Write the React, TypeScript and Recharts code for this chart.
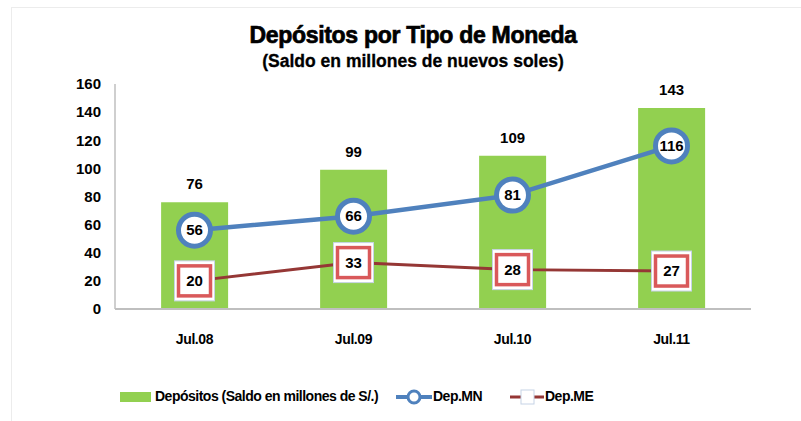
import React from 'react';
import { ComposedChart, Bar, Line, XAxis, YAxis, LabelList, Legend } from 'recharts';

const categories = ['Jul.08', 'Jul.09', 'Jul.10', 'Jul.11'];
const depositos = [76, 99, 109, 143];
const depMN = [56, 66, 81, 116];
const depME = [20, 33, 28, 27];
const yTicks = [0, 20, 40, 60, 80, 100, 120, 140, 160];

const data = categories.map((c, i) => ({ name: c, dep: depositos[i], mn: depMN[i], me: depME[i] }));

const FONT = "'Liberation Sans', Arial, sans-serif";
const GREEN = '#92D050';
const BLUE = '#4F81BD';
const DARKRED = '#953735';
const RED = '#D9595A';

const CircleDot = (props: any) => {
  const { cx, cy, value } = props;
  if (cx == null || cy == null) return null;
  return (
    <g>
      <circle cx={cx} cy={cy} r={16} fill="#fff" stroke={BLUE} strokeWidth={5} />
      <text x={cx} y={cy} dy={5} textAnchor="middle" fontFamily={FONT} fontWeight="bold" fontSize={15} fill="#000">{value}</text>
    </g>
  );
};

const SquareDot = (props: any) => {
  const { cx, cy, value } = props;
  if (cx == null || cy == null) return null;
  return (
    <g>
      <rect x={cx - 20} y={cy - 20} width={40} height={40} fill="#fff" stroke="#C6D3E6" strokeWidth={1} />
      <rect x={cx - 16} y={cy - 15} width={32} height={30} fill="#fff" stroke={RED} strokeWidth={3.5} />
      <text x={cx} y={cy} dy={5} textAnchor="middle" fontFamily={FONT} fontWeight="bold" fontSize={15} fill="#000">{value}</text>
    </g>
  );
};

const LegendContent = () => (
  <div style={{ position: 'relative', height: 24, fontFamily: FONT, fontWeight: 'bold', fontSize: 14, letterSpacing: -0.5, color: '#000' }}>
    <div style={{ position: 'absolute', left: 120, top: 7, width: 31, height: 10, background: GREEN }} />
    <div style={{ position: 'absolute', left: 155, top: 3 }}>Depósitos (Saldo en millones de S/.)</div>
    <svg style={{ position: 'absolute', left: 396, top: 2 }} width={36} height={20}>
      <line x1={0} y1={10} x2={36} y2={10} stroke={BLUE} strokeWidth={4} />
      <circle cx={18} cy={10} r={6} fill="#fff" stroke={BLUE} strokeWidth={3} />
    </svg>
    <div style={{ position: 'absolute', left: 433, top: 3 }}>Dep.MN</div>
    <svg style={{ position: 'absolute', left: 510, top: 2 }} width={34} height={20}>
      <line x1={0} y1={10} x2={34} y2={10} stroke={DARKRED} strokeWidth={3} />
      <rect x={11} y={3} width={13} height={14} fill="#fff" stroke="#C6D3E6" strokeWidth={1} />
    </svg>
    <div style={{ position: 'absolute', left: 545, top: 3 }}>Dep.ME</div>
  </div>
);

export default function App() {
  return (
    <div style={{ position: 'absolute', left: 0, top: 0, width: 801, height: 421, background: '#fff' }}>
      <div style={{ position: 'absolute', left: 11, top: 7, width: 790, height: 414, borderTop: '1px solid #ececec', borderLeft: '1px solid #ececec' }} />
      <div style={{ position: 'absolute', left: 0, top: 22, width: 826, textAlign: 'center', fontFamily: FONT, fontWeight: 'bold', fontSize: 23, letterSpacing: -0.3, WebkitTextStroke: '0.7px #000', color: '#000' }}>
        Depósitos por Tipo de Moneda
      </div>
      <div style={{ position: 'absolute', left: 0, top: 51, width: 826, textAlign: 'center', fontFamily: FONT, fontWeight: 'bold', fontSize: 17.5, letterSpacing: 0, WebkitTextStroke: '0.3px #000', color: '#000' }}>
        (Saldo en millones de nuevos soles)
      </div>
      <ComposedChart
        width={801}
        height={421}
        data={data}
        margin={{ top: 84, right: 50, left: 0, bottom: 0 }}
        barCategoryGap="29%"
      >
        <XAxis
          dataKey="name"
          axisLine={{ stroke: '#BFBFBF', strokeWidth: 2 }}
          tickLine={false}
          tickSize={21}
          tickMargin={4}
          height={88}
          tick={{ fontFamily: FONT, fontWeight: 'bold', fontSize: 14, letterSpacing: -0.4, fill: '#000' }}
        />
        <YAxis
          width={115}
          domain={[0, 160]}
          ticks={yTicks}
          interval={0}
          axisLine={{ stroke: '#BFBFBF', strokeWidth: 1.5 }}
          tickLine={false}
          tickSize={10}
          tickMargin={4}
          tick={{ fontFamily: FONT, fontWeight: 'bold', fontSize: 15, fill: '#000' }}
        />
        <Legend verticalAlign="bottom" content={<LegendContent />} wrapperStyle={{ left: 0, width: 801, bottom: 12 }} />
        <Bar dataKey="dep" fill={GREEN} isAnimationActive={false}>
          <LabelList dataKey="dep" position="top" offset={13} style={{ fontFamily: FONT, fontWeight: 'bold', fontSize: 15, fill: '#000' }} />
        </Bar>
        <Line dataKey="mn" stroke={BLUE} strokeWidth={4.5} dot={<CircleDot />} activeDot={false} isAnimationActive={false} />
        <Line dataKey="me" stroke={DARKRED} strokeWidth={3} dot={<SquareDot />} activeDot={false} isAnimationActive={false} />
      </ComposedChart>
    </div>
  );
}
